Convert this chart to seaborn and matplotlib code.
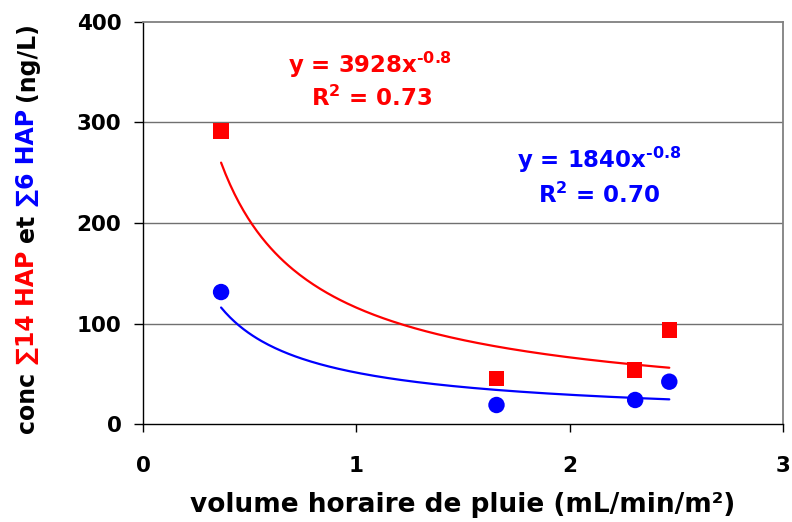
import numpy as np
import pandas as pd
import matplotlib
matplotlib.use("Agg")
import matplotlib.pyplot as plt
import seaborn as sns
from matplotlib.font_manager import FontProperties

# ---- data ----
x_red = [0.366, 1.657, 2.303, 2.467]
y_red = [291.5, 45.4, 53.7, 93.5]          # conc sum14 HAP (ng/L)
x_blue = [0.366, 1.657, 2.307, 2.467]
y_blue = [131.3, 18.9, 23.9, 42.1]          # conc sum6 HAP (ng/L)
eq_red = ["y = 3928x$^{\\mathbf{\u2011 0.8}}$", "R$^{\\mathbf{2}}$ = 0.73"]
eq_blue = ["y = 1840x$^{\\mathbf{\u2011 0.8}}$", "R$^{\\mathbf{2}}$ = 0.70"]
x_ticks = [0, 1, 2, 3]
y_ticks = [0, 100, 200, 300, 400]
x_label = "volume horaire de pluie (mL/min/m²)"
y_label_parts = [("conc ", "black"), ("∑14 HAP", "#FF0000"), (" et ", "black"),
                 ("∑6 HAP", "#0000FF"), (" (ng/L)", "black")]

RED = "#FF0000"
BLUE = "#0000FF"
FAM = ["DejaVu Sans"]

sns.set_theme(style="white")
plt.rcParams["font.family"] = FAM
plt.rcParams["font.weight"] = "bold"
plt.rcParams["mathtext.fontset"] = "dejavusans"

W, H = 792, 522
fig = plt.figure(figsize=(W / 100, H / 100), dpi=100)
ax = fig.add_axes([143 / W, 1 - 424 / H, 640 / W, 402 / H])


def power_fit(x, y):
    b, loga = np.polyfit(np.log(x), np.log(y), 1)
    xs = np.linspace(min(x), max(x), 200)
    return xs, np.exp(loga) * xs ** b


for xs_, ys_, col in [(x_red, y_red, RED), (x_blue, y_blue, BLUE)]:
    fx, fy = power_fit(np.array(xs_), np.array(ys_))
    sns.lineplot(x=fx, y=fy, color=col, lw=1.6, ax=ax, sort=False)

sns.scatterplot(x=x_red, y=y_red, marker="s", s=120, color=RED, edgecolor="none", ax=ax)
sns.scatterplot(x=x_blue, y=y_blue, marker="o", s=140, color=BLUE, edgecolor="none", ax=ax)

ax.set_xlim(0, 3)
ax.set_ylim(0, 400)
ax.set_xticks(x_ticks)
ax.set_yticks(y_ticks)
ax.set_xticklabels([str(t) for t in x_ticks], fontsize=15.5, fontweight="bold")
ax.set_yticklabels([str(t) for t in y_ticks], fontsize=15.5, fontweight="bold")
ax.tick_params(axis="y", direction="out", length=6.5, width=1, pad=9, left=True, colors="black")
ax.tick_params(axis="x", direction="out", length=6, width=1, pad=17, bottom=True, colors="black")

ax.grid(False)
for yv in [100, 200, 300]:
    ax.axhline(yv, color="#707070", lw=1, zorder=0)
for side in ["left", "bottom"]:
    ax.spines[side].set_color("black")
    ax.spines[side].set_linewidth(1)
for side in ["top", "right"]:
    ax.spines[side].set_color("#808080")
    ax.spines[side].set_linewidth(1.3)

ax.set_xlabel(x_label, fontsize=19, fontweight="bold", color="black")
ax.xaxis.set_label_coords(0.5, -0.2015)
ax.xaxis.label.set_va("center")
ax.set_ylabel("")

# equations
ax.text(1.064, 357, eq_red[0], color=RED, fontsize=16.5, fontweight="bold", ha="center", va="center")
ax.text(1.07, 324, eq_red[1], color=RED, fontsize=16.5, fontweight="bold", ha="center", va="center")
ax.text(2.14, 262.7, eq_blue[0], color=BLUE, fontsize=16.5, fontweight="bold", ha="center", va="center")
ax.text(2.14, 228, eq_blue[1], color=BLUE, fontsize=16.5, fontweight="bold", ha="center", va="center")

# multi-coloured vertical y label
fig.canvas.draw()
renderer = fig.canvas.get_renderer()
fp = FontProperties(family=FAM, weight="bold", size=17)


def tw(s):
    w1, _, _ = renderer.get_text_width_height_descent(s + "I", fp, ismath=False)
    w2, _, _ = renderer.get_text_width_height_descent("I", fp, ismath=False)
    return w1 - w2


base_x = 34.0
start_y = H - 433.0
prefix = ""
for txt, col in y_label_parts:
    lead = len(txt) - len(txt.lstrip(" "))
    off = tw(prefix + txt[:lead])
    fig.text(base_x / W, (start_y + off) / H, txt.strip(" "), color=col, rotation=90,
             rotation_mode="anchor", ha="left", va="baseline", fontproperties=fp)
    prefix += txt

fig.savefig("out.png", dpi=100, facecolor="white")
